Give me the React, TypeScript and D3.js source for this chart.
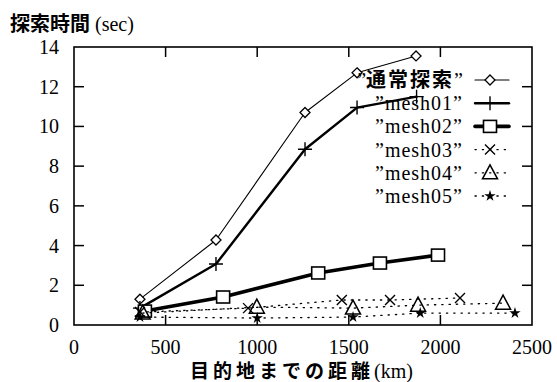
import React from "react";
import * as d3 from "d3";

const seriesNames = ["\u201D通常探索\u201D", "\u201Dmesh01\u201D", "\u201Dmesh02\u201D", "\u201Dmesh03\u201D", "\u201Dmesh04\u201D", "\u201Dmesh05\u201D"];
const normalX = [360, 775, 1261, 1545, 1867];
const normalY = [1.3, 4.28, 10.7, 12.7, 13.55];
const mesh01X = [360, 775, 1261, 1545, 1870];
const mesh01Y = [0.85, 3.07, 8.85, 10.95, 11.5];
const mesh02X = [387, 814, 1333, 1670, 1987];
const mesh02Y = [0.7, 1.41, 2.62, 3.12, 3.52];
const mesh03X = [360, 950, 1462, 1725, 2107];
const mesh03Y = [0.65, 0.85, 1.26, 1.26, 1.36];
const mesh04X = [375, 998, 1523, 1878, 2342];
const mesh04Y = [0.6, 0.9, 0.85, 1.0, 1.1];
const mesh05X = [360, 1000, 1523, 1890, 2407];
const mesh05Y = [0.4, 0.35, 0.4, 0.6, 0.6];
const xTicks = [0, 500, 1000, 1500, 2000, 2500];
const yTicks = [0, 2, 4, 6, 8, 10, 12, 14];

const W = 557, H = 382;
const M = { left: 74, right: 25, top: 47, bottom: 57 };
const serif = "Liberation Serif";
const cjk = "Noto Sans CJK JP";

type Kind = "diamond" | "plus" | "square" | "cross" | "triangle" | "star";

function Marker({ kind, x, y }: { kind: Kind; x: number; y: number }) {
  const s = "#000";
  switch (kind) {
    case "diamond":
      return <path d={`M${x},${y - 5}L${x + 5},${y}L${x},${y + 5}L${x - 5},${y}Z`} fill="#fff" stroke={s} strokeWidth={1.3} />;
    case "plus":
      return <path d={`M${x - 7},${y}H${x + 7}M${x},${y - 7}V${y + 7}`} stroke={s} strokeWidth={1.4} fill="none" />;
    case "square":
      return <rect x={x - 6.5} y={y - 6} width={13} height={12} fill="#fff" stroke={s} strokeWidth={1.6} />;
    case "cross":
      return <path d={`M${x - 5},${y - 5}L${x + 5},${y + 5}M${x - 5},${y + 5}L${x + 5},${y - 5}`} stroke={s} strokeWidth={1.4} fill="none" />;
    case "triangle":
      return <path d={`M${x},${y - 8}L${x + 7.5},${y + 6}L${x - 7.5},${y + 6}Z`} fill="none" stroke={s} strokeWidth={1.5} />;
    case "star": {
      const sym = d3.symbol(d3.symbolStar, 40)();
      return <path d={sym || ""} transform={`translate(${x},${y})`} fill={s} />;
    }
  }
  return null;
}

export default function App() {
  const x = d3.scaleLinear().domain([0, 2500]).range([M.left, W - M.right]);
  const y = d3.scaleLinear().domain([0, 14]).range([H - M.bottom, M.top]);
  const series = [
    { xs: normalX, ys: normalY, kind: "diamond" as Kind, width: 1.1, dash: "" },
    { xs: mesh01X, ys: mesh01Y, kind: "plus" as Kind, width: 2.4, dash: "" },
    { xs: mesh02X, ys: mesh02Y, kind: "square" as Kind, width: 3.6, dash: "" },
    { xs: mesh03X, ys: mesh03Y, kind: "cross" as Kind, width: 1.3, dash: "1.3,6" },
    { xs: mesh04X, ys: mesh04Y, kind: "triangle" as Kind, width: 1.3, dash: "1.3,6" },
    { xs: mesh05X, ys: mesh05Y, kind: "star" as Kind, width: 1.3, dash: "1.3,6" },
  ];
  const line = d3.line<[number, number]>().x((d) => x(d[0])).y((d) => y(d[1]));
  const x0 = M.left, x1 = W - M.right, y0 = H - M.bottom, y1 = M.top;
  const legX = 463, legL0 = 475, legL1 = 509, legY0 = 80, legDy = 23.2;
  return (
    <svg width={W} height={H} style={{ position: "absolute", left: 0, top: 0, background: "#fff" }}>
      <rect width={W} height={H} fill="#fff" />
      {/* ticks */}
      {yTicks.map((t) => (
        <g key={"y" + t}>
          {t > 0 && t < 14 && (
            <>
              <line x1={x0} x2={x0 + 10} y1={y(t)} y2={y(t)} stroke="#000" strokeWidth={1.5} />
              <line x1={x1} x2={x1 - 10} y1={y(t)} y2={y(t)} stroke="#000" strokeWidth={1.5} />
            </>
          )}
          <text x={59} y={y(t) + 7} textAnchor="end" fontFamily={serif} fontSize={20}>{t}</text>
        </g>
      ))}
      {xTicks.map((t) => (
        <g key={"x" + t}>
          {t > 0 && t < 2500 && (
            <>
              <line x1={x(t)} x2={x(t)} y1={y0} y2={y0 - 10} stroke="#000" strokeWidth={1.5} />
              <line x1={x(t)} x2={x(t)} y1={y1} y2={y1 + 10} stroke="#000" strokeWidth={1.5} />
            </>
          )}
          <text x={x(t)} y={354} textAnchor="middle" fontFamily={serif} fontSize={20}>{t}</text>
        </g>
      ))}
      <rect x={x0} y={y1} width={x1 - x0} height={y0 - y1} fill="none" stroke="#000" strokeWidth={1.6} />
      {/* series */}
      {series.map((s, i) => (
        <g key={"s" + i}>
          <path d={line(s.xs.map((v, j) => [v, s.ys[j]] as [number, number])) || ""} fill="none" stroke="#000" strokeWidth={s.width} strokeDasharray={s.dash || undefined} strokeLinecap="round" strokeLinejoin="round" />
          {s.xs.map((v, j) => (
            <Marker key={j} kind={s.kind} x={x(v)} y={y(s.ys[j])} />
          ))}
        </g>
      ))}
      {/* legend */}
      {series.map((s, i) => {
        const ly = legY0 + i * legDy;
        return (
          <g key={"l" + i}>
            {i === 0 ? (
              <text x={legX} y={ly + 7} textAnchor="end" fontSize={20}>
                <tspan fontFamily={serif}>{"\u201D"}</tspan>
                <tspan fontFamily={cjk} fontWeight="bold" letterSpacing={2}>通常探索</tspan>
                <tspan fontFamily={serif}>{"\u201D"}</tspan>
              </text>
            ) : (
              <text x={legX} y={ly + 7} textAnchor="end" fontFamily={serif} fontSize={20} letterSpacing={1}>{seriesNames[i]}</text>
            )}
            <line x1={legL0} x2={legL1} y1={ly} y2={ly} stroke="#000" strokeWidth={s.width} strokeDasharray={s.dash || undefined} strokeLinecap="round" />
            <Marker kind={s.kind} x={(legL0 + legL1) / 2 - 2} y={ly} />
          </g>
        );
      })}
      {/* titles */}
      <text x={10} y={31} fontSize={20}>
        <tspan fontFamily={cjk} fontWeight="bold">探索時間</tspan>
        <tspan fontFamily={serif}> (sec)</tspan>
      </text>
      <text x={190} y={378} fontSize={19}>
        <tspan fontFamily={cjk} fontWeight="bold" letterSpacing={4}>目的地までの距離</tspan>
        <tspan fontFamily={serif} fontSize={20}>(km)</tspan>
      </text>
    </svg>
  );
}
